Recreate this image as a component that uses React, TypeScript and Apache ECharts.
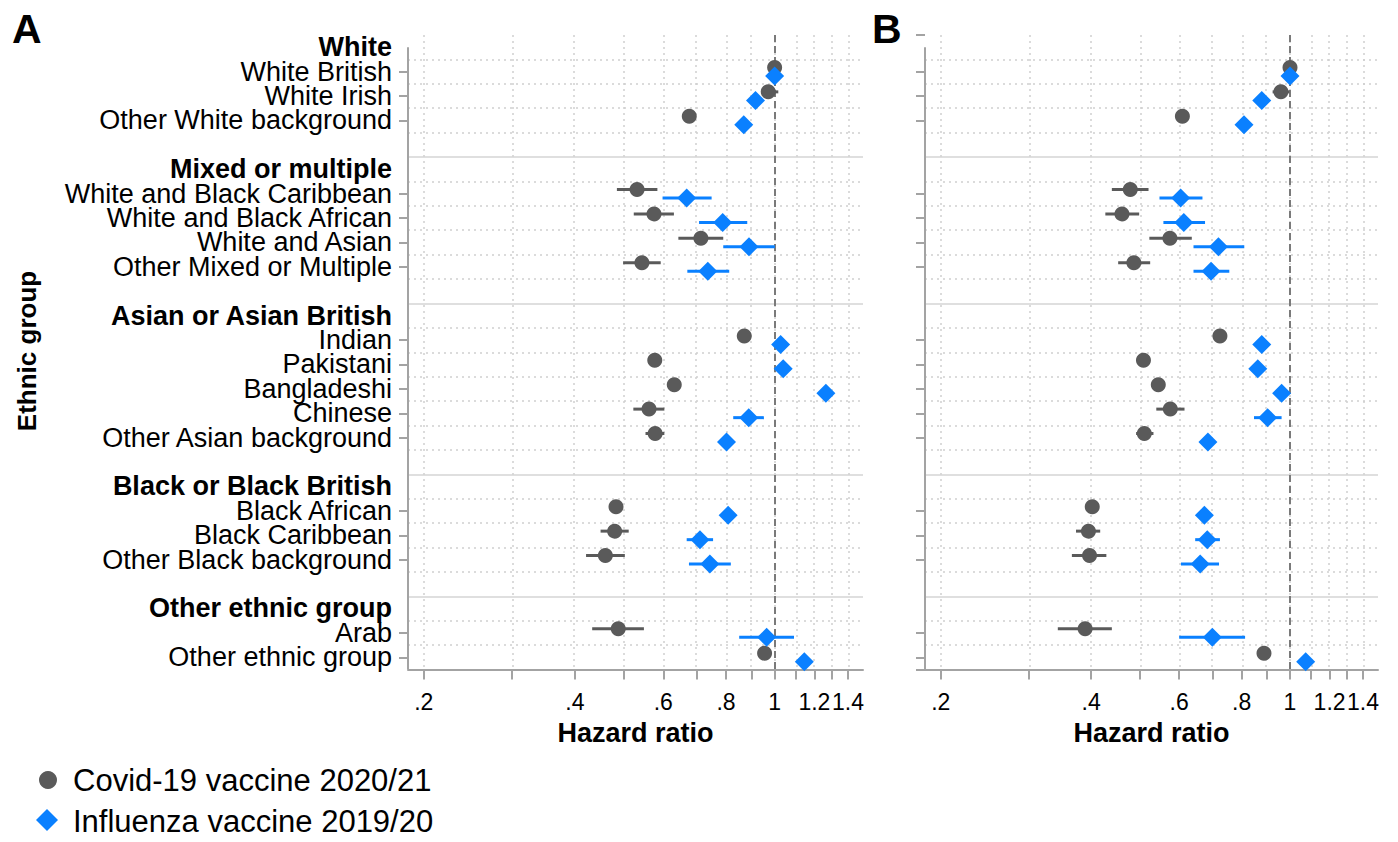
import React, { useEffect, useRef } from 'react';
import * as echarts from 'echarts';

// ---------- data ----------
const rowLabels = [
  'White', 'White British', 'White Irish', 'Other White background', '',
  'Mixed or multiple', 'White and Black Caribbean', 'White and Black African', 'White and Asian', 'Other Mixed or Multiple', '',
  'Asian or Asian British', 'Indian', 'Pakistani', 'Bangladeshi', 'Chinese', 'Other Asian background', '',
  'Black or Black British', 'Black African', 'Black Caribbean', 'Other Black background', '',
  'Other ethnic group', 'Arab', 'Other ethnic group',
];
const headingRows = [0, 5, 11, 18, 23];
const separatorRows = [4.5, 10.5, 17.5, 22.5];
const dataRows = [1, 2, 3, 6, 7, 8, 9, 12, 13, 14, 15, 16, 19, 20, 21, 24, 25];

// Panel A
const covidA = [1.0, 0.971, 0.676, 0.532, 0.575, 0.713, 0.544, 0.870, 0.577, 0.631, 0.562, 0.578, 0.483, 0.480, 0.460, 0.488, 0.955];
const covidALo = [0.99, 0.94, 0.665, 0.485, 0.524, 0.643, 0.499, 0.855, 0.565, 0.615, 0.523, 0.553, 0.470, 0.450, 0.421, 0.433, 0.935];
const covidAHi = [1.01, 1.017, 0.688, 0.584, 0.630, 0.790, 0.593, 0.885, 0.590, 0.648, 0.603, 0.603, 0.497, 0.512, 0.503, 0.549, 0.976];
const fluA = [1.0, 0.916, 0.868, 0.668, 0.788, 0.889, 0.736, 1.028, 1.040, 1.265, 0.888, 0.802, 0.808, 0.710, 0.743, 0.964, 1.146];
const fluALo = [0.99, 0.895, 0.855, 0.598, 0.707, 0.790, 0.670, 1.010, 1.020, 1.230, 0.827, 0.785, 0.790, 0.668, 0.675, 0.850, 1.115];
const fluAHi = [1.01, 0.937, 0.881, 0.749, 0.882, 1.001, 0.812, 1.046, 1.060, 1.300, 0.952, 0.820, 0.826, 0.754, 0.818, 1.093, 1.178];

// Panel B
const covidB = [1.0, 0.959, 0.609, 0.479, 0.461, 0.575, 0.487, 0.724, 0.509, 0.545, 0.576, 0.511, 0.402, 0.395, 0.397, 0.389, 0.887];
const covidBLo = [0.99, 0.923, 0.600, 0.440, 0.427, 0.523, 0.453, 0.712, 0.500, 0.533, 0.540, 0.492, 0.393, 0.373, 0.366, 0.343, 0.870];
const covidBHi = [1.01, 0.997, 0.618, 0.521, 0.499, 0.636, 0.525, 0.736, 0.518, 0.557, 0.615, 0.533, 0.411, 0.417, 0.429, 0.440, 0.904];
const fluB = [1.0, 0.878, 0.809, 0.604, 0.613, 0.719, 0.695, 0.878, 0.862, 0.962, 0.902, 0.685, 0.674, 0.683, 0.661, 0.699, 1.075];
const fluBLo = [0.99, 0.862, 0.795, 0.548, 0.558, 0.641, 0.641, 0.862, 0.845, 0.940, 0.847, 0.665, 0.660, 0.646, 0.605, 0.600, 1.050];
const fluBHi = [1.01, 0.894, 0.823, 0.668, 0.676, 0.810, 0.756, 0.894, 0.879, 0.985, 0.962, 0.705, 0.688, 0.724, 0.721, 0.813, 1.100];

const xTickValues = [0.2, 0.3, 0.4, 0.5, 0.6, 0.7, 0.8, 0.9, 1.0, 1.1, 1.2, 1.3, 1.4];
const xLabelValues = [0.2, 0.4, 0.6, 0.8, 1.0, 1.2, 1.4];
const xMin = 0.186;
const xMax = 1.5;
const yMin = -0.5;
const yMax = 25.5;

const seriesNames = ['Covid-19 vaccine 2020/21', 'Influenza vaccine 2019/20'];

// ---------- styles ----------
const COVID = '#5a5a5a';
const FLU = '#0a80ff';
const AXIS = '#a3a3a3';
const FONT = "'Liberation Sans', Arial, Helvetica, sans-serif";
const COVID_OFF = -0.17;
const FLU_OFF = 0.18;

const halfRows: number[] = [];
for (let i = 0; i <= 24; i++) halfRows.push(i + 0.5);

function fmtTick(v: number) {
  const r = Math.round(Math.exp(v) * 10) / 10;
  if (r === 1) return '1';
  return r < 1 ? String(r).replace(/^0/, '') : String(r);
}

function ciSeries(name: string, gi: number, lo: number[], hi: number[], off: number, color: string, z: number) {
  return {
    name,
    type: 'custom',
    xAxisIndex: gi,
    yAxisIndex: gi,
    z,
    silent: true,
    encode: { x: [0, 1], y: 2 },
    data: dataRows.map((r, i) => [Math.log(lo[i]), Math.log(hi[i]), r + off]),
    renderItem: (_p: any, api: any) => {
      const a = api.coord([api.value(0), api.value(2)]);
      const b = api.coord([api.value(1), api.value(2)]);
      return {
        type: 'line',
        shape: { x1: a[0], y1: a[1], x2: b[0], y2: b[1] },
        style: { stroke: color, lineWidth: 3 },
      };
    },
  };
}

function pointSeries(name: string, gi: number, hr: number[], off: number, color: string, symbol: string, size: any, z: number) {
  return {
    name,
    type: 'scatter',
    xAxisIndex: gi,
    yAxisIndex: gi,
    z,
    symbol,
    symbolSize: size,
    itemStyle: { color, opacity: 1 },
    data: dataRows.map((r, i) => [Math.log(hr[i]), r + off]),
  };
}

function frameSeries(gi: number) {
  const lines: any[] = [];
  xTickValues.forEach((v) => {
    lines.push({ xAxis: Math.log(v), lineStyle: { color: '#cfcfcf', width: 1.5, type: [2, 4] } });
  });
  halfRows.forEach((v) => {
    if (separatorRows.indexOf(v) >= 0) return;
    lines.push({ yAxis: v, lineStyle: { color: '#cfcfcf', width: 1.5, type: [2, 4] } });
  });
  separatorRows.forEach((v) => {
    lines.push({ yAxis: v, lineStyle: { color: '#d4d4d4', width: 1.5, type: 'solid' } });
  });
  lines.push({ xAxis: 0, lineStyle: { color: '#7a7a7a', width: 2, type: [7, 4] } });
  return {
    type: 'line',
    xAxisIndex: gi,
    yAxisIndex: gi,
    z: 2,
    silent: true,
    clip: false,
    symbol: 'none',
    lineStyle: { color: AXIS, width: 2 },
    data: [[Math.log(xMin), 0], [Math.log(xMin), yMax]],
    markLine: {
      silent: true,
      z: 1,
      symbol: ['none', 'none'],
      label: { show: false },
      emphasis: { disabled: true },
      animation: false,
      data: lines,
    },
  };
}

function xAxisOpt(gi: number) {
  return {
    type: 'value',
    gridIndex: gi,
    min: Math.log(xMin),
    max: Math.log(xMax),
    name: 'Hazard ratio',
    nameLocation: 'middle',
    nameGap: 50,
    nameTextStyle: { fontFamily: FONT, fontSize: 27, fontWeight: 'bold', color: '#000' },
    axisLine: { show: true, onZero: false, lineStyle: { color: AXIS, width: 2 } },
    axisTick: { show: true, length: 10, customValues: xTickValues.map((v) => Math.log(v)), lineStyle: { color: AXIS, width: 2 } },
    axisLabel: {
      show: true,
      customValues: xLabelValues.map((v) => Math.log(v)),
      formatter: (v: number) => fmtTick(v),
      margin: 21,
      hideOverlap: false,
      showMinLabel: true,
      showMaxLabel: true,
      fontFamily: FONT,
      fontSize: 23,
      color: '#000',
    },
    splitLine: { show: false },
  };
}

function yAxisOpt(gi: number, showLabels: boolean) {
  // placeholder entries at the axis ends keep ECharts' min/max-label rule away from real labels
  const labelRows = [yMin, ...[...headingRows, ...dataRows].sort((a, b) => a - b), yMax];
  const tickRows = [yMin, ...dataRows, yMax];
  return {
    type: 'value',
    gridIndex: gi,
    inverse: true,
    min: yMin,
    max: yMax,
    axisLine: { show: false, onZero: false },
    axisTick: { show: true, length: 9, customValues: tickRows, lineStyle: { color: AXIS, width: 2 } },
    axisLabel: {
      show: showLabels,
      customValues: labelRows,
      margin: 16,
      hideOverlap: false,
      showMinLabel: false,
      showMaxLabel: false,
      fontFamily: FONT,
      fontSize: 27,
      color: '#000',
      formatter: (v: number) => {
        if (v < 0 || v > 25) return '';
        const i = Math.round(v);
        const lab = rowLabels[i];
        return headingRows.indexOf(i) >= 0 ? `{h|${lab}}` : `{n|${lab}}`;
      },
      rich: {
        h: { fontFamily: FONT, fontSize: 27, fontWeight: 'bold', color: '#000' },
        n: { fontFamily: FONT, fontSize: 27, color: '#000' },
      },
    },
    splitLine: { show: false },
  };
}

export default function App() {
  const ref = useRef<HTMLDivElement>(null);
  useEffect(() => {
    if (!ref.current) return;
    const chart = echarts.init(ref.current, null, { renderer: 'svg' });
    const option: any = {
      animation: false,
      backgroundColor: '#ffffff',
      textStyle: { fontFamily: FONT },
      grid: [
        { left: 408, top: 35, width: 455, height: 634.5, outerBoundsMode: 'none', containLabel: false },
        { left: 925, top: 35, width: 453, height: 634.5, outerBoundsMode: 'none', containLabel: false },
      ],
      xAxis: [xAxisOpt(0), xAxisOpt(1)],
      yAxis: [yAxisOpt(0, true), yAxisOpt(1, false)],
      series: [
        frameSeries(0),
        frameSeries(1),
        ciSeries(seriesNames[0] + ' CI', 0, covidALo, covidAHi, COVID_OFF, COVID, 4),
        pointSeries(seriesNames[0], 0, covidA, COVID_OFF, COVID, 'circle', 15, 5),
        ciSeries(seriesNames[1] + ' CI', 0, fluALo, fluAHi, FLU_OFF, FLU, 6),
        pointSeries(seriesNames[1], 0, fluA, FLU_OFF, FLU, 'diamond', [19, 19], 7),
        ciSeries(seriesNames[0] + ' CI', 1, covidBLo, covidBHi, COVID_OFF, COVID, 4),
        pointSeries(seriesNames[0], 1, covidB, COVID_OFF, COVID, 'circle', 15, 5),
        ciSeries(seriesNames[1] + ' CI', 1, fluBLo, fluBHi, FLU_OFF, FLU, 6),
        pointSeries(seriesNames[1], 1, fluB, FLU_OFF, FLU, 'diamond', [19, 19], 7),
      ],
      graphic: [
        { type: 'text', left: 12, top: 8, style: { text: 'A', font: `bold 41px ${FONT}`, fill: '#000' } },
        { type: 'text', left: 872, top: 8, style: { text: 'B', font: `bold 41px ${FONT}`, fill: '#000' } },
        {
          type: 'text', x: 27, y: 351, rotation: Math.PI / 2,
          style: { text: 'Ethnic group', font: `bold 26px ${FONT}`, fill: '#000', align: 'center', verticalAlign: 'middle' },
        },
        { type: 'circle', shape: { cx: 48, cy: 780, r: 9 }, style: { fill: COVID } },
        { type: 'text', x: 73, y: 780, style: { text: seriesNames[0], font: `31px ${FONT}`, fill: '#000', verticalAlign: 'middle' } },
        { type: 'polygon', shape: { points: [[47, 809], [58, 820], [47, 831], [36, 820]] }, style: { fill: FLU } },
        { type: 'text', x: 73, y: 821, style: { text: seriesNames[1], font: `31px ${FONT}`, fill: '#000', verticalAlign: 'middle' } },
      ],
    };
    chart.setOption(option);
    return () => chart.dispose();
  }, []);
  return <div ref={ref} style={{ position: 'fixed', left: 0, top: 0, width: 1398, height: 842, background: '#fff' }} />;
}
